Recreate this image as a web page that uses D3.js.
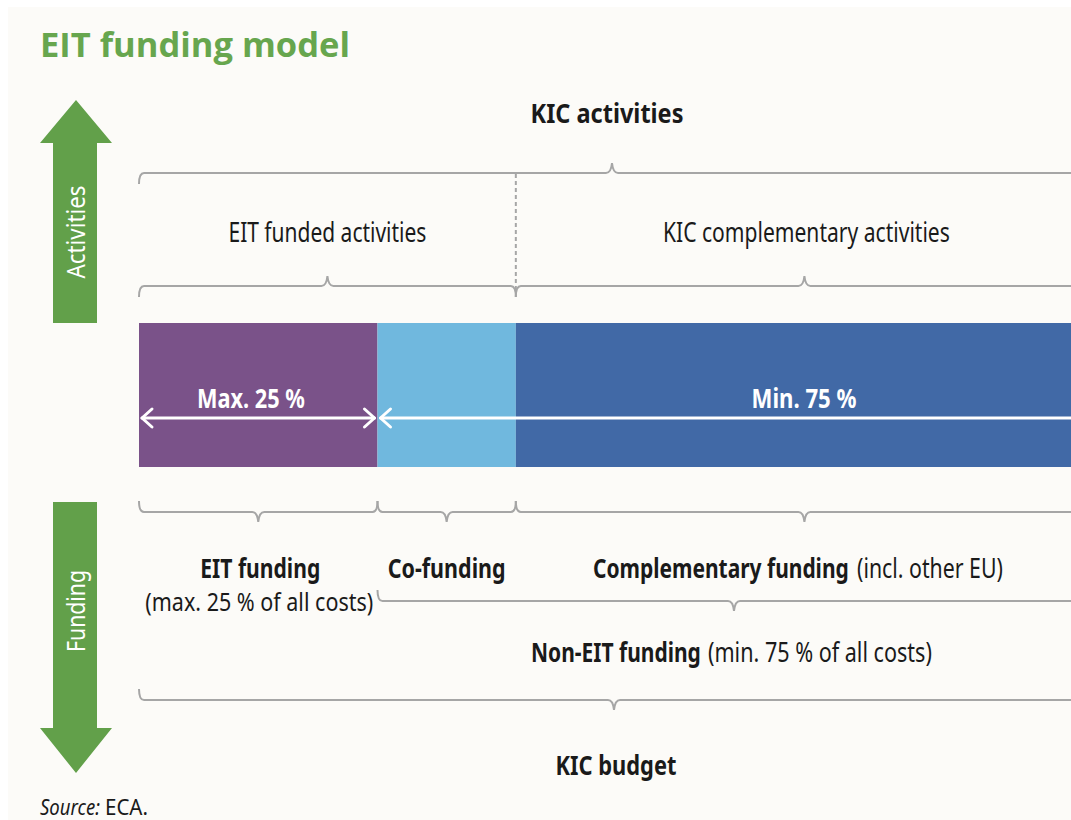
<!DOCTYPE html>
<html>
<head>
  <title>EIT funding model</title>
  <script src="https://d3js.org/d3.v7.min.js"></script>
  <style>
    body { margin: 0; background: #ffffff; }
    .narrow { font-family: 'Noto Sans', 'Open Sans', sans-serif; fill: #1a1a1a; }
    .brace { fill: none; stroke: #a6a6a6; stroke-width: 2; }
  </style>
</head>
<body>
  <script>
    // Budget shares (% of all KIC costs)
    var segments = ["EIT funding", "Co-funding", "Complementary funding"];
    var shares = [25, 14.5, 60.5];
    var segColors = ["#7a5289", "#70b8de", "#4169a6"];

    // Activities split: EIT funded (EIT funding + co-funding) vs complementary
    var activityLabels = ["EIT funded activities", "KIC complementary activities"];
    var activityShares = [39.5, 60.5];

    var width = 1071, height = 820;

    var svg = d3.select("body").append("svg")
      .attr("width", width)
      .attr("height", height);

    // page background with thin white border on top / left
    svg.append("rect").attr("x", 0).attr("y", 0).attr("width", width).attr("height", height).attr("fill", "#ffffff");
    svg.append("rect").attr("x", 8).attr("y", 7).attr("width", width).attr("height", height).attr("fill", "#fcfbf8");

    // squeeze text horizontally to a given width (the original uses a condensed face)
    function fit(sel, w) {
      var n = sel.node().getComputedTextLength();
      var k = w / n;
      var tx = +sel.attr("x") || 0, ty = +sel.attr("y") || 0;
      var t = sel.attr("transform") || "";
      sel.attr("x", 0).attr("y", 0)
        .attr("transform", t + " translate(" + tx + "," + ty + ") scale(" + k + ",1)");
      return sel;
    }

    // cumulative positions
    var starts = [];
    var acc = 0;
    shares.forEach(function(s) { starts.push(acc); acc += s; });
    var actStarts = [];
    acc = 0;
    activityShares.forEach(function(s) { actStarts.push(acc); acc += s; });

    var x = d3.scaleLinear().domain([0, 100]).range([139, 1093]);

    // Title
    fit(svg.append("text")
      .attr("x", 40).attr("y", 57)
      .style("font-family", "'Open Sans', sans-serif")
      .style("font-weight", "bold")
      .style("font-size", "34px")
      .style("fill", "#67a64e")
      .text("EIT funding model"), 310);

    // Green side arrows
    var green = "#62a04a";
    var upArrow = [[76, 100], [112, 143], [97, 143], [97, 323], [53, 323], [53, 143], [40, 143]];
    var downArrow = [[76, 773], [112, 728], [97, 728], [97, 502], [53, 502], [53, 728], [40, 728]];
    var poly = d3.line();
    svg.append("path").attr("d", poly(upArrow) + "Z").attr("fill", green);
    svg.append("path").attr("d", poly(downArrow) + "Z").attr("fill", green);

    fit(svg.append("text")
      .attr("class", "narrow")
      .attr("transform", "translate(85,232) rotate(-90)")
      .attr("text-anchor", "middle")
      .style("font-size", "26px")
      .style("fill", "#ffffff")
      .text("Activities"), 93);
    fit(svg.append("text")
      .attr("class", "narrow")
      .attr("transform", "translate(85,611) rotate(-90)")
      .attr("text-anchor", "middle")
      .style("font-size", "26px")
      .style("fill", "#ffffff")
      .text("Funding"), 82);

    // Brace path: tip = -1 points up, +1 points down; ends curl the other way
    function brace(x0, x1, y, tip, tipX) {
      var p = d3.path();
      var endH = 11, r = 5, tw = 6, th = 10;
      var xm = tipX === undefined ? (x0 + x1) / 2 : tipX;
      p.moveTo(x0, y - tip * endH);
      p.quadraticCurveTo(x0, y, x0 + r, y);
      p.lineTo(xm - tw, y);
      p.quadraticCurveTo(xm - 1, y, xm, y + tip * th);
      p.quadraticCurveTo(xm + 1, y, xm + tw, y);
      p.lineTo(x1 - r, y);
      p.quadraticCurveTo(x1, y, x1, y - tip * endH);
      return p.toString();
    }

    // label made of a bold part and a regular part, each squeezed to its width
    function twoPart(g, x0, y, boldTxt, boldW, gap, regTxt, regW, size) {
      fit(g.append("text")
        .attr("class", "narrow")
        .attr("x", x0).attr("y", y)
        .style("font-size", size).style("font-weight", "bold")
        .text(boldTxt), boldW);
      fit(g.append("text")
        .attr("class", "narrow")
        .attr("x", x0 + boldW + gap).attr("y", y)
        .style("font-size", size)
        .text(regTxt), regW);
    }

    var chart = svg.append("g");

    // Level 1: KIC activities
    chart.append("path").attr("class", "brace").attr("d", brace(x(0), x(100), 173, -1, 612));
    fit(chart.append("text")
      .attr("class", "narrow")
      .attr("x", 607).attr("y", 123)
      .attr("text-anchor", "middle")
      .style("font-size", "27px").style("font-weight", "bold")
      .text("KIC activities"), 153);

    // Dashed divider between activity groups
    chart.append("line")
      .attr("x1", x(actStarts[1])).attr("x2", x(actStarts[1]))
      .attr("y1", 174).attr("y2", 290)
      .attr("stroke", "#a6a6a6").attr("stroke-width", 2)
      .attr("stroke-dasharray", "4,3");

    // Level 2: activity braces
    var actWidths = [198, 287];
    activityLabels.forEach(function(lbl, i) {
      var a = x(actStarts[i]), b = x(actStarts[i] + activityShares[i]);
      chart.append("path").attr("class", "brace").attr("d", brace(a, b, 286, -1));
      fit(chart.append("text")
        .attr("class", "narrow")
        .attr("x", (a + b) / 2 + 2 * i).attr("y", 242)
        .attr("text-anchor", "middle")
        .style("font-size", "27px")
        .text(lbl), actWidths[i]);
    });

    // The bar
    chart.selectAll(".seg")
      .data(segments)
      .enter().append("rect")
      .attr("class", "seg")
      .attr("x", function(d, i) { return x(starts[i]); })
      .attr("y", 323)
      .attr("width", function(d, i) { return x(starts[i] + shares[i]) - x(starts[i]); })
      .attr("height", 144)
      .attr("fill", function(d, i) { return segColors[i]; });

    // White measure arrows inside the bar
    var ay = 418;
    var whiteLine = chart.append("g").attr("stroke", "#ffffff").attr("stroke-width", 3).attr("fill", "none")
      .attr("stroke-linecap", "round").attr("stroke-linejoin", "round");
    function head(xp, dir) {
      // dir -1 points left, +1 points right
      whiteLine.append("path").attr("d", poly([[xp - dir * 10, ay - 9], [xp, ay], [xp - dir * 10, ay + 9]]));
    }
    var eitEnd = x(starts[0] + shares[0]);
    whiteLine.append("line").attr("x1", x(0) + 3).attr("x2", eitEnd - 3).attr("y1", ay).attr("y2", ay);
    head(x(0) + 3, -1);
    head(eitEnd - 3, 1);
    whiteLine.append("line").attr("x1", eitEnd + 3).attr("x2", x(100)).attr("y1", ay).attr("y2", ay);
    head(eitEnd + 3, -1);

    fit(chart.append("text")
      .attr("class", "narrow")
      .attr("x", 251).attr("y", 408)
      .attr("text-anchor", "middle")
      .style("font-size", "27px").style("font-weight", "bold").style("fill", "#ffffff")
      .text("Max. " + shares[0] + " %"), 108);
    fit(chart.append("text")
      .attr("class", "narrow")
      .attr("x", 804).attr("y", 408)
      .attr("text-anchor", "middle")
      .style("font-size", "27px").style("font-weight", "bold").style("fill", "#ffffff")
      .text("Min. " + (100 - shares[0]) + " %"), 105);

    // Level 3: funding braces
    segments.forEach(function(lbl, i) {
      var a = x(starts[i]), b = x(starts[i] + shares[i]);
      chart.append("path").attr("class", "brace").attr("d", brace(a, b, 512, 1));
    });

    fit(chart.append("text")
      .attr("class", "narrow")
      .attr("x", x(shares[0] / 2) + 2).attr("y", 578)
      .attr("text-anchor", "middle")
      .style("font-size", "27px").style("font-weight", "bold")
      .text(segments[0]), 120);
    fit(chart.append("text")
      .attr("class", "narrow")
      .attr("x", x(shares[0] / 2) + 1).attr("y", 611)
      .attr("text-anchor", "middle")
      .style("font-size", "26px")
      .text("(max. " + shares[0] + " % of all costs)"), 228);
    fit(chart.append("text")
      .attr("class", "narrow")
      .attr("x", x(starts[1] + shares[1] / 2)).attr("y", 578)
      .attr("text-anchor", "middle")
      .style("font-size", "27px").style("font-weight", "bold")
      .text(segments[1]), 118);

    twoPart(chart, 593, 578, segments[2], 256, 8, "(incl. other EU)", 146, "27px");

    // Level 4: Non-EIT funding
    chart.append("path").attr("class", "brace").attr("d", brace(x(starts[1]), x(100), 601, 1, 734));
    twoPart(chart, 531, 662, "Non-EIT funding", 170, 7, "(min. " + (100 - shares[0]) + " % of all costs)", 224, "27px");

    // Level 5: KIC budget
    chart.append("path").attr("class", "brace").attr("d", brace(x(0), x(100), 700, 1, 614));
    fit(chart.append("text")
      .attr("class", "narrow")
      .attr("x", 616).attr("y", 775)
      .attr("text-anchor", "middle")
      .style("font-size", "27px").style("font-weight", "bold")
      .text("KIC budget"), 121);

    // Source
    fit(svg.append("text")
      .attr("class", "narrow")
      .attr("x", 40).attr("y", 815)
      .style("font-size", "22px").style("font-style", "italic")
      .text("Source:"), 60);
    fit(svg.append("text")
      .attr("class", "narrow")
      .attr("x", 105).attr("y", 815)
      .style("font-size", "22px")
      .text("ECA."), 43);
  </script>
</body>
</html>
